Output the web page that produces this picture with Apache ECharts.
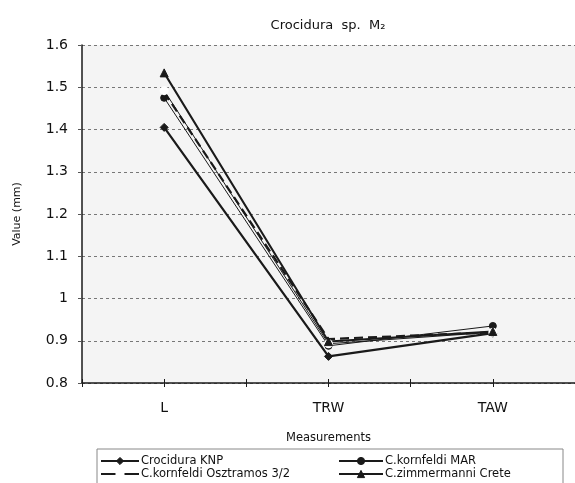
<!DOCTYPE html>
<html>
<head>
<meta charset="utf-8">
<script src="https://cdn.jsdelivr.net/npm/echarts@6/dist/echarts.min.js"></script>
<style>
  html, body { margin: 0; padding: 0; background: #fff; }
  #chart { width: 575px; height: 483px; }
</style>
</head>
<body>
<div id="chart"></div>
<script>
// measurements on the x axis
const categories = ['L', 'TRW', 'TAW']
const yTicks = [0.8, 0.9, 1, 1.1, 1.2, 1.3, 1.4, 1.5, 1.6]

// values (mm)
const knp = [1.405, 0.863, 0.918]
const mar = [1.475, 0.888, 0.935]
const osztramos = [1.492, 0.893, 0.920]
const zimmermanni = [1.534, 0.898, 0.922]
const dashedSeries = [1.488, 0.904, 0.920]

const ink = '#1a1a1a'
const font = 'DejaVu Sans'

const chart = echarts.init(document.getElementById('chart'))

const lineSeries = (name, data, symbol, size, width, extra) => Object.assign({
  name,
  type: 'line',
  data,
  symbol,
  symbolSize: size,
  showSymbol: true,
  lineStyle: { color: ink, width },
  itemStyle: { color: ink, borderColor: ink },
  z: 5
}, extra || {})

const legendText = { fontFamily: font, fontSize: 11.5, color: '#111', padding: [0, 0, 0, -3] }
const legendItem = { borderColor: ink, borderWidth: 1 }

chart.setOption({
  animation: false,
  backgroundColor: '#fff',
  title: {
    text: 'Crocidura  sp.  M₂',
    left: 323,
    top: 14,
    textAlign: 'center',
    textStyle: { fontFamily: font, fontSize: 13, fontWeight: 'normal', color: '#111' }
  },
  grid: {
    left: 82, right: -5, top: 45, bottom: 100,
    show: true, backgroundColor: '#f4f4f4', borderWidth: 0
  },
  xAxis: [{
    type: 'category',
    data: categories,
    boundaryGap: true,
    position: 'bottom',
    name: 'Measurements',
    nameLocation: 'middle',
    nameGap: 49,
    nameTextStyle: { fontFamily: font, fontSize: 11.5, color: '#111' },
    axisLine: { lineStyle: { color: ink, width: 1.5 } },
    axisTick: { show: false },
    axisLabel: { fontFamily: font, fontSize: 14, color: '#111', margin: 18 },
    splitLine: { show: false }
  }, {
    type: 'value', min: 0, max: 6, interval: 1, position: 'bottom',
    axisLine: { show: false },
    axisTick: { show: true, inside: true, length: 4, lineStyle: { color: ink } },
    axisLabel: { show: false }, splitLine: { show: false }
  }, {
    type: 'value', min: 0, max: 6, interval: 1, position: 'bottom',
    axisLine: { show: false },
    axisTick: { show: true, inside: false, length: 4, lineStyle: { color: ink } },
    axisLabel: { show: false }, splitLine: { show: false }
  }],
  yAxis: {
    type: 'value',
    min: yTicks[0],
    max: yTicks[yTicks.length - 1],
    interval: 0.1,
    name: 'Value (mm)',
    nameLocation: 'middle',
    nameGap: 59,
    nameTextStyle: { fontFamily: font, fontSize: 11, color: '#111' },
    axisLine: { show: true, lineStyle: { color: ink, width: 1.5 } },
    axisTick: { show: true, length: 4, lineStyle: { color: '#555' } },
    axisLabel: {
      fontFamily: font, fontSize: 14, color: '#111', margin: 14,
      formatter: v => String(+v.toFixed(1))
    },
    splitLine: { show: true, lineStyle: { color: '#777', type: [3, 3], width: 1 } }
  },
  legend: [{
    data: [
      'Crocidura KNP',
      {
        name: 'C.kornfeldi Osztramos 3/2',
        itemStyle: { color: '#fff', borderColor: ink, borderWidth: 1.3 }
      }
    ],
    orient: 'vertical',
    left: 100, top: 455, padding: 0,
    itemWidth: 38, itemHeight: 9, itemGap: 1,
    itemStyle: legendItem,
    textStyle: legendText
  }, {
    data: ['C.kornfeldi MAR', 'C.zimmermanni Crete'],
    orient: 'vertical',
    left: 338, top: 455, padding: 0,
    itemWidth: 44, itemHeight: 9, itemGap: 1,
    itemStyle: legendItem,
    textStyle: legendText
  }],
  graphic: [{
    type: 'rect',
    shape: { x: 97, y: 449, width: 466, height: 60 },
    style: { fill: '#fff', stroke: '#888', lineWidth: 1 },
    z: -1
  }],
  series: [
    lineSeries('Crocidura KNP', knp, 'diamond', 8, 2.2),
    lineSeries('C.kornfeldi MAR', mar, 'circle', 7, 1),
    lineSeries('C.kornfeldi Osztramos 3/2', osztramos, 'emptyCircle', 7, 1, {
      itemStyle: { color: '#fff', borderColor: ink, borderWidth: 1.2 }
    }),
    lineSeries('C.zimmermanni Crete', zimmermanni, 'triangle', 8, 2),
    lineSeries('', dashedSeries, 'none', 0, 2.2, {
      lineStyle: { color: ink, width: 2.2, type: [9, 5] },
      z: 4
    })
  ]
})
</script>
</body>
</html>
